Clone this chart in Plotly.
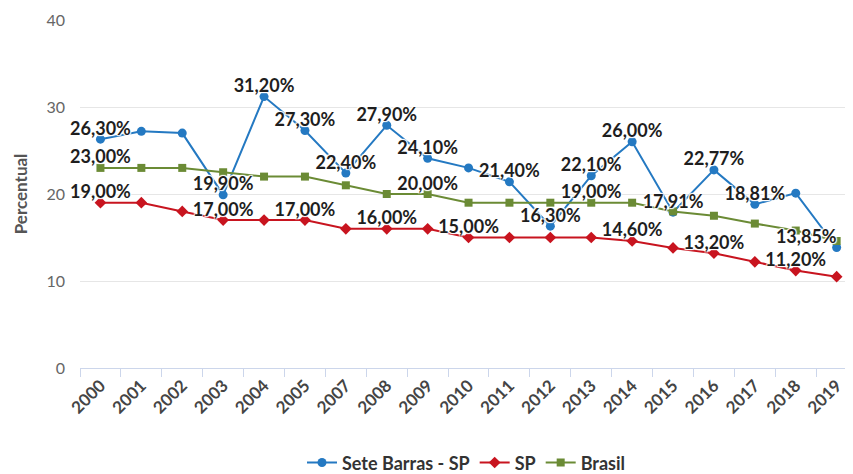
import plotly.graph_objects as go

anos = ['2000', '2001', '2002', '2003', '2004', '2005', '2007', '2008', '2009', '2010',
        '2011', '2012', '2013', '2014', '2015', '2016', '2017', '2018', '2019']

sete_barras = [26.30, 27.20, 27.00, 19.90, 31.20, 27.30, 22.40, 27.90, 24.10, 23.00,
               21.40, 16.30, 22.10, 26.00, 17.91, 22.77, 18.81, 20.10, 13.85]
sp = [19.00, 19.00, 18.00, 17.00, 17.00, 17.00, 16.00, 16.00, 16.00, 15.00,
      15.00, 15.00, 15.00, 14.60, 13.80, 13.20, 12.20, 11.20, 10.50]
brasil = [23.00, 23.00, 23.00, 22.50, 22.00, 22.00, 21.00, 20.00, 20.00, 19.00,
          19.00, 19.00, 19.00, 19.00, 18.00, 17.50, 16.60, 15.80, 14.60]

# anos que aparecem com rótulo no gráfico original
rot_sete = ['2000', '2003', '2004', '2005', '2007', '2008', '2009', '2011', '2012',
            '2013', '2014', '2015', '2016', '2017', '2019']
rot_sp = ['2000', '2003', '2005', '2008', '2010', '2014', '2016', '2018']
rot_brasil = ['2000', '2009', '2013']

series = [
    ('Sete Barras - SP', sete_barras, rot_sete, '#2479c2', 'circle', 9),
    ('SP', sp, rot_sp, '#c8141f', 'diamond', 9),
    ('Brasil', brasil, rot_brasil, '#6b8b35', 'square', 8),
]


def fmt(v):
    return f'{v:.2f}'.replace('.', ',') + '%'


fig = go.Figure()

for nome, vals, rots, cor, simb, tam in series:
    fig.add_trace(go.Scatter(x=anos, y=vals, name=nome, mode='lines+markers',
                             line=dict(color=cor, width=2),
                             marker=dict(symbol=simb, size=tam, color=cor),
                             cliponaxis=False, hoverinfo='skip'))

sombra = '1px 1px 1px #fff, -1px -1px 1px #fff, 1px -1px 1px #fff, -1px 1px 1px #fff'
for nome, vals, rots, cor, simb, tam in series:
    textos = [fmt(v) if a in rots else '' for a, v in zip(anos, vals)]
    pos = ['top left' if a == anos[-1] else 'top center' for a in anos]
    fig.add_trace(go.Scatter(x=anos, y=vals, mode='text', text=textos, textposition=pos,
                             textfont=dict(family='Lato', size=18, color='#1e1e1e',
                                           weight='bold', shadow=sombra),
                             showlegend=False, cliponaxis=False, hoverinfo='skip'))

# a página tem 8px de margem no body, por isso a figura é um pouco menor que a janela
fig.update_layout(
    width=845, height=466,
    margin=dict(l=72, r=0, t=12, b=106),
    plot_bgcolor='white', paper_bgcolor='white',
    font=dict(family='Lato', color='#555'),
    legend=dict(orientation='h', x=0.5, xanchor='center', yref='container', y=0.024,
                yanchor='middle', font=dict(size=18, color='#333', weight='bold')),
)
fig.update_xaxes(type='category', range=[-0.5, 18.4], tickangle=-45, automargin=False,
                 tickfont=dict(size=17, color='#444', weight='bold'),
                 ticks='outside', ticklen=8, tickcolor='#ccd6eb', tickson='boundaries',
                 showline=True, linecolor='#ccd6eb', linewidth=1, showgrid=False)
fig.update_yaxes(range=[0, 40], dtick=10, showgrid=True, gridcolor='#e6e6e6',
                 zeroline=False, ticks='', ticklabelstandoff=14, automargin=False,
                 tickfont=dict(size=16, color='#666'),
                 title=dict(text='Percentual', standoff=14,
                            font=dict(size=17, color='#555', weight='bold')))

fig.write_html('out.html')
